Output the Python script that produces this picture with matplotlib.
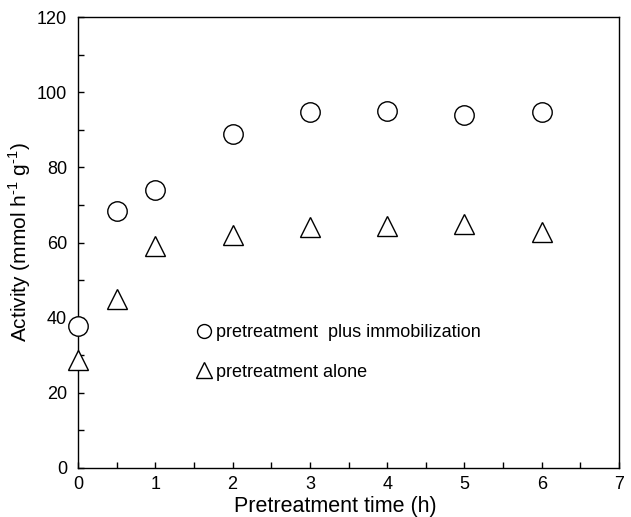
import matplotlib
matplotlib.use("Agg")
import matplotlib.pyplot as plt
from matplotlib.ticker import MultipleLocator
from matplotlib.lines import Line2D

plt.rcParams['font.family'] = ['Liberation Sans', 'DejaVu Sans']
plt.rcParams['mathtext.fontset'] = 'custom'
plt.rcParams['mathtext.rm'] = 'Liberation Sans'

# pretreatment time (h)
time_h = [0, 0.5, 1, 2, 3, 4, 5, 6]
# activity, pretreatment plus immobilization
act_immob = [37.9, 68.3, 74.0, 89.0, 94.8, 95.0, 94.0, 94.7]
# activity, pretreatment alone
act_alone = [28.8, 45.0, 59.0, 61.9, 64.1, 64.3, 65.0, 62.7]

fig = plt.figure(figsize=(6.31, 5.17), dpi=100)
ax = fig.add_axes([0.1236, 0.0948, 0.8574, 0.8722])

ax.plot(time_h, act_immob, linestyle='none', marker='o', markersize=14,
        markerfacecolor='white', markeredgecolor='black', markeredgewidth=1.0,
        clip_on=False, zorder=3)
ax.plot(time_h, act_alone, linestyle='none', marker='^', markersize=15,
        markerfacecolor='white', markeredgecolor='black', markeredgewidth=1.0,
        clip_on=False, zorder=3)

ax.set_xlim(0, 7)
ax.set_ylim(0, 120)
ax.xaxis.set_major_locator(MultipleLocator(1))
ax.xaxis.set_minor_locator(MultipleLocator(0.5))
ax.yaxis.set_major_locator(MultipleLocator(20))
ax.yaxis.set_minor_locator(MultipleLocator(10))
ax.tick_params(which='both', direction='in', length=4.5, width=1.0,
               top=False, right=False, labelsize=13, colors='black')
ax.tick_params(axis='y', pad=8)
ax.tick_params(axis='x', pad=6)
for s in ax.spines.values():
    s.set_linewidth(1.0)

ax.set_xlabel("Pretreatment time (h)", fontsize=15.5)
ax.xaxis.set_label_coords(0.475, -0.062)
ax.set_ylabel("Activity (mmol h$^{\u2010 1}$ g$^{\u2010 1}$)", fontsize=15)
ax.yaxis.set_label_coords(-0.084, 0.5)

handles = [
    Line2D([], [], linestyle='none', marker='o', markersize=10,
           markerfacecolor='white', markeredgecolor='black', markeredgewidth=1.0),
    Line2D([], [], linestyle='none', marker='^', markersize=11,
           markerfacecolor='white', markeredgecolor='black', markeredgewidth=1.0),
]
ax.legend(handles, ["pretreatment  plus immobilization", "pretreatment alone"],
          loc='upper left', bbox_to_anchor=(0.19, 0.355), frameon=False,
          fontsize=13, handlelength=0.8, handletextpad=0.25, labelspacing=1.25)

fig.savefig("out.png", dpi=100)
